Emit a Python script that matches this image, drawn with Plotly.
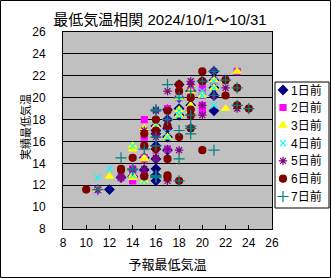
import plotly.graph_objects as go

title_text = "最低気温相関 2024/10/1～10/31"
x_title = "予報最低気温"
y_title = "実績最低気温"
series_names = ["1日前", "2日前", "3日前", "4日前", "5日前", "6日前", "7日前"]

# actual minimum temperature per day (31 days)
actual = [22.4, 21.6, 21.5, 21.2, 20.9, 20.6, 20.2, 20.0, 19.3, 19.0,
          18.8, 18.4, 18.0, 17.4, 17.2, 17.0, 16.7, 16.4, 15.6, 15.3,
          15.2, 14.5, 14.4, 13.5, 13.4, 12.8, 12.7, 12.4, 12.9, 11.6, 18.9]

# forecast minimum temperature by lead time
f1 = [21, 21, 20, 18, 21, 19, 21, 18, 19, 18, 21, 18, 17, 16, 17, 16, 16, 17, 16, 16, 17, 15, 16, 16, 15, 14, 13, 16, 16, 12, 17]
f2 = [23, 22, 21, 19, 20, 19, 20, 18, 20, 17, 20, 19, 15, 17, 16, 16, 15, 15, 15, 17, 16, 15, 15, 14, 14, 14, 13, 14, 15, 11, 19]
f3 = [23, 21, 22, 19, 21, 19, 20, 18, 19, 22, 19, 18, 16, 16, 15, 15, 15, 17, 14, 14, 16, 15, 15, 13, 13, 12, 14, 15, 14, 11, 18]
f4 = [21, 22, 21, 19, 21, 20, 20, 18, 21, 19, 18, 18, 17, 16, 17, 16, 16, 17, 14, 17, 16, 16, 16, 12, 13, 13, 11, 15, 14, 11, 16]
f5 = [21, 22, 19, 19, 22, 17, 21, 19, 20, 23, 16, 20, 17, 17, 19, 15, 16, 16, 15, 17, 18, 16, 16, 15, 14, 13, 13, 17, 15, 11, 16]
f6 = [20, 22, 20, 18, 23, 18, 22, 19, 23, 24, 17, 19, 16, 17, 19, 16, 15, 18, 15, 16, 20, 14, 17, 13, 13, 15, 17, 18, 17, 10, 19]
f7 = [21, 22, 20, 17, 23, 19, 21, 18, 23, 24, 16, 19, 17, 19, 19, 18, 19, 16, 16, 15, 21, 13, 18, 14, 14, 16, 16, 18, 16, 11, 16]
forecasts = [f1, f2, f3, f4, f5, f6, f7]

symbols = ["diamond", "square", "triangle-up", "x-thin-open", "asterisk-open", "circle", "cross-thin-open"]
colors = ["#000080", "#FF00FF", "#FFFF00", "#00FFFF", "#800080", "#800000", "#008080"]
sizes = [7, 6, 7, 6, 7, 7, 8]

x_ticks = list(range(8, 27, 2))
y_ticks = list(range(8, 27, 2))

W, H = 331, 278
ml, mr, mt, mb = 63, 1, 32, 49
pw, ph = W - ml - mr, H - mt - mb          # paper area in px
plot_w = 209                                 # main plot width in px

def px_x(p):   # pixel x -> paper fraction
    return (p - ml) / pw

def px_y(p):   # pixel y (from top) -> paper fraction
    return (H - mb - p) / ph

# legend box geometry (pixels)
lg_left, lg_right, lg_top, lg_bottom = 275, 329, 82, 208
lg_rows = [90, 107.5, 125.3, 143.1, 160.9, 178.7, 196.5]

fig = go.Figure()
for name, fx, sym, col, sz in zip(series_names, forecasts, symbols, colors, sizes):
    fig.add_trace(go.Scatter(
        x=fx, y=actual, mode="markers", name=name, showlegend=False,
        marker=dict(symbol=sym, color=col, size=sz, line=dict(color=col, width=1.2)),
        xaxis="x", yaxis="y",
    ))

# legend drawn on its own hidden axes (in pixel units of the legend box)
for name, sym, col, sz, ry in zip(series_names, symbols, colors, sizes, lg_rows):
    fig.add_trace(go.Scatter(
        x=[283], y=[ry], mode="markers", marker=dict(symbol=sym, color=col, size=sz,
                                                     line=dict(color=col, width=1.2)),
        showlegend=False, hoverinfo="skip", xaxis="x2", yaxis="y2", cliponaxis=False,
    ))
    fig.add_annotation(x=289, y=ry, xref="x2", yref="y2", text=name, showarrow=False,
                       xanchor="left", yanchor="middle",
                       font=dict(size=12, family="Liberation Sans, Noto Sans CJK JP", color="black"))

fig.update_layout(
    width=W, height=H,
    margin=dict(l=ml, r=mr, t=mt, b=mb, autoexpand=False),
    paper_bgcolor="white", plot_bgcolor="rgba(0,0,0,0)",
    font=dict(family="Liberation Sans, Noto Sans CJK JP", size=12, color="black"),
    title=dict(text=title_text, x=160 / W, xanchor="center", y=1 - 20 / H, yanchor="middle",
               font=dict(size=15, family="Liberation Sans, Noto Sans CJK JP")),
    showlegend=False,
    xaxis=dict(domain=[0, plot_w / pw], range=[8, 26], tickvals=x_ticks,
               ticktext=[str(v) for v in x_ticks],
               showgrid=False, zeroline=False, showline=True, linecolor="black", linewidth=1,
               mirror=True, ticks="inside", ticklen=4, tickcolor="black", ticklabelstandoff=3,
               title=dict(text=x_title, font=dict(size=13), standoff=10)),
    yaxis=dict(domain=[0, 1], range=[8, 26], tickvals=y_ticks, ticktext=[str(v) for v in y_ticks],
               showgrid=True, gridcolor="black", gridwidth=1, zeroline=False,
               showline=True, linecolor="black", linewidth=1, mirror=True,
               ticks="", ticklabelstandoff=14),
    xaxis2=dict(domain=[px_x(lg_left), px_x(lg_right)], range=[lg_left, lg_right],
                visible=False, anchor="y2", fixedrange=True),
    yaxis2=dict(domain=[px_y(lg_bottom), px_y(lg_top)], range=[lg_bottom, lg_top],
                visible=False, anchor="x2", fixedrange=True),
)

# y axis title as rotated text close to the tick labels
fig.add_annotation(x=px_x(25), y=px_y(127), xref="paper", yref="paper", text=y_title,
                   showarrow=False, textangle=-90, xanchor="center", yanchor="middle",
                   font=dict(size=11, family="Noto Sans CJK JP", color="black"))

# grey plot area background
fig.add_shape(type="rect", xref="x domain", yref="y domain", x0=0, x1=1, y0=0, y1=1,
              fillcolor="#C0C0C0", line=dict(width=0), layer="below")
# legend box
fig.add_shape(type="rect", xref="x2 domain", yref="y2 domain", x0=0, x1=1, y0=0, y1=1,
              fillcolor="white", line=dict(color="black", width=1), layer="below")
# outer chart border
fig.add_shape(type="rect", xref="paper", yref="paper",
              x0=px_x(0.5), x1=px_x(W - 0.5), y0=px_y(H - 0.5), y1=px_y(0.5),
              line=dict(color="black", width=1), fillcolor="rgba(0,0,0,0)", layer="above")

fig.write_html("out.html")
